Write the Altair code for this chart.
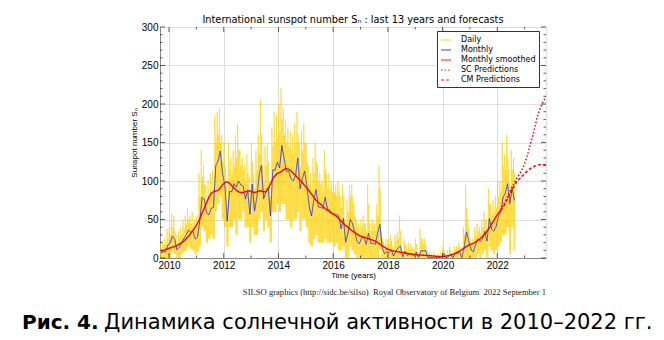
import altair as alt
import pandas as pd

# ---------------- data ----------------
# months start September 2009
monthly = [7, 8, 8, 17,
           19.6, 28.5, 24.0, 10.4, 13.9, 18.8, 25.2, 29.6, 36.4, 33.6, 34.4, 24.5,
           27.3, 48.3, 78.6, 76.1, 58.2, 56.1, 64.5, 65.8, 120.1, 125.7, 139.1, 109.3,
           94.4, 47.8, 86.6, 85.9, 96.5, 92.0, 100.1, 94.8, 93.7, 76.5, 87.6, 56.8,
           96.1, 60.9, 78.3, 107.3, 120.2, 76.7, 86.2, 91.8, 54.5, 114.4, 113.9, 124.2,
           117.0, 146.1, 128.7, 112.5, 112.5, 102.9, 100.2, 106.9, 130.0, 90.0, 103.6, 112.9,
           93.0, 66.7, 54.5, 75.3, 88.8, 66.5, 65.8, 64.4, 78.6, 63.6, 62.2, 58.0,
           57.0, 56.4, 54.1, 37.9, 51.5, 20.5, 32.4, 50.2, 44.6, 33.4, 21.4, 18.5,
           26.1, 26.4, 17.7, 32.3, 18.9, 19.2, 17.8, 32.6, 43.7, 13.2, 5.7, 8.2,
           6.8, 10.7, 2.5, 8.9, 13.1, 15.6, 1.6, 8.7, 3.3, 4.9, 4.9, 3.1,
           7.7, 0.8, 9.4, 9.1, 9.9, 1.2, 0.9, 0.5, 1.1, 0.4, 0.5, 1.5,
           6.2, 0.2, 1.5, 5.2, 0.2, 5.8, 6.1, 7.5, 0.6, 14.4, 34.0, 21.8,
           10.4, 8.2, 17.2, 24.5, 21.2, 25.0, 34.5, 22.0, 51.3, 37.4, 34.8, 41.1,
           54.0, 59.7, 78.5, 84.1, 96.5, 70.6, 91.4, 74.6]

smoothed = [9, 10, 11, 12,
            13, 14, 15, 16, 18, 20, 22, 25, 28, 32, 36, 40,
            45, 51, 58, 65, 72, 79, 84, 86, 87, 88, 91, 95,
            98, 99, 97, 94, 91, 88, 86, 85, 85, 86, 87, 87,
            86, 85, 86, 87, 87, 86, 86, 90, 96, 103, 107, 110,
            111, 113, 115, 116, 115, 113, 110, 107, 104, 101, 98, 94,
            91, 87, 83, 79, 75, 72, 70, 67, 64, 62, 60, 58,
            56, 54, 51, 48, 45, 42, 40, 37, 35, 33, 31, 29,
            28, 27, 26, 25, 24, 23, 22, 20, 18, 16, 14, 12,
            11, 10, 9, 8.5, 8, 7.5, 7, 6.5, 6, 5.5, 5, 4.5,
            4.2, 4, 3.8, 3.6, 3.4, 3.2, 3, 2.8, 2.4, 2.1, 1.9, 1.8,
            2.0, 2.5, 3.0, 3.8, 4.8, 6.0, 7.5, 9, 11, 13, 15, 17,
            18, 19, 21, 23, 25, 28, 31, 35, 39, 44, 49, 54,
            58, 62]

# daily values: highest spike, a second spike and the low of each month
daily_hi = [20, 22, 25, 38,
            40, 58, 55, 30, 35, 40, 50, 55, 65, 55, 60, 50,
            55, 110, 140, 120, 95, 100, 110, 115, 185, 190, 195, 160,
            150, 95, 150, 130, 140, 160, 175, 140, 130, 120, 135, 105,
            150, 110, 140, 160, 205, 120, 145, 150, 100, 170, 190, 185,
            200, 220, 195, 180, 170, 165, 160, 175, 190, 150, 165, 175,
            150, 120, 110, 130, 150, 120, 110, 100, 140, 110, 110, 100,
            100, 95, 100, 80, 95, 50, 75, 95, 95, 70, 50, 45,
            50, 55, 45, 95, 45, 50, 45, 70, 120, 35, 20, 25,
            25, 30, 15, 30, 35, 55, 10, 25, 15, 20, 18, 15,
            25, 8, 38, 25, 25, 10, 8, 5, 8, 5, 5, 8,
            15, 5, 10, 15, 5, 15, 15, 20, 8, 40, 95, 50,
            25, 25, 40, 45, 40, 50, 60, 50, 90, 70, 75, 80,
            100, 100, 150, 135, 160, 115, 140, 130]

daily_hi2 = [12, 15, 18, 25,
             30, 40, 35, 20, 25, 30, 38, 45, 50, 45, 42, 35,
             40, 80, 105, 95, 70, 80, 85, 90, 150, 160, 150, 125,
             120, 70, 115, 110, 120, 130, 140, 120, 115, 100, 110, 85,
             125, 90, 115, 135, 160, 100, 120, 125, 80, 145, 150, 155,
             165, 180, 160, 150, 145, 140, 135, 150, 160, 120, 140, 150,
             125, 95, 90, 110, 125, 100, 95, 85, 115, 90, 90, 85,
             85, 80, 85, 65, 80, 40, 60, 80, 80, 55, 40, 35,
             40, 45, 35, 70, 35, 40, 35, 55, 90, 25, 12, 18,
             18, 22, 10, 22, 25, 35, 5, 18, 10, 12, 12, 10,
             18, 4, 25, 18, 18, 5, 4, 2, 4, 2, 2, 4,
             10, 2, 5, 10, 2, 10, 10, 14, 4, 30, 65, 38,
             18, 18, 30, 35, 32, 40, 50, 38, 70, 55, 60, 65,
             80, 85, 120, 115, 130, 95, 115, 110]

daily_lo = [0, 0, 0, 0,
            0, 10, 5, 0, 0, 5, 8, 10, 15, 12, 10, 5,
            8, 15, 40, 35, 20, 25, 30, 25, 60, 70, 80, 50,
            40, 15, 40, 40, 50, 30, 50, 50, 60, 40, 40, 20,
            40, 30, 30, 50, 60, 35, 50, 40, 20, 60, 60, 70,
            60, 70, 70, 50, 50, 40, 50, 50, 60, 35, 50, 50,
            40, 20, 15, 25, 30, 20, 20, 20, 25, 20, 20, 20,
            15, 20, 10, 10, 15, 0, 0, 15, 10, 5, 0, 0,
            0, 0, 0, 0, 0, 0, 0, 0, 10, 0, 0, 0,
            0, 0, 0, 0, 0, 0, 0, 0, 0, 0, 0, 0,
            0, 0, 0, 0, 0, 0, 0, 0, 0, 0, 0, 0,
            0, 0, 0, 0, 0, 0, 0, 0, 0, 0, 0, 0,
            0, 0, 0, 5, 0, 5, 10, 0, 15, 10, 5, 10,
            15, 20, 30, 30, 40, 5, 40, 10]

# predictions from March 2022 to October 2023
sc_pred = [68, 74, 80, 86, 92, 98, 103, 108, 113, 119, 127, 137, 148, 158,
           170, 183, 192, 199, 205, 210]
cm_pred = [66, 71, 77, 83, 89, 94, 99, 102, 105, 108, 111, 114, 116, 118,
           119.5, 120.5, 121, 121, 121, 121]

series_names = ["Daily", "Monthly", "Monthly smoothed", "SC Predictions", "CM Predictions"]
series_colors = ["#FFD000", "#2b2bdd", "#ff0000", "#ff0000", "#ff0000"]
series_dash = [[1, 0], [1, 0], [1, 0], [1.5, 2], [3, 2]]

x_ticks = [2010, 2012, 2014, 2016, 2018, 2020, 2022]
x_minor = list(range(2010, 2024))
y_ticks = [0, 50, 100, 150, 200, 250, 300]
y_minor = list(range(0, 301, 10))

NB = "\u00a0"
title_text = "International sunspot number S\u2099 : last 13 years and forecasts"
footer_text = ("SILSO graphics (http://sidc.be/silso)" + NB * 2 + "Royal Observatory of Belgium"
               + NB * 2 + "2022 September 1")
caption_bold = "Рис. 4."
caption_rest = "Динамика солнечной активности в 2010–2022 гг."

# ---------------- tables ----------------
def month_pos(i, frac=0.5, y0=2009, m0=8):
    k = m0 + i
    return y0 + k // 12 + ((k % 12) + frac) / 12

daily_rows = []
for i in range(len(daily_hi)):
    for frac, val in ((0.125, daily_hi[i]), (0.375, daily_lo[i]),
                      (0.625, daily_hi2[i]), (0.875, daily_lo[i])):
        daily_rows.append({"t": month_pos(i, frac), "v": val, "s": "Daily"})
daily_df = pd.DataFrame(daily_rows)

monthly_df = pd.DataFrame({"t": [month_pos(i) for i in range(len(monthly))],
                           "v": monthly, "s": "Monthly"})
smooth_df = pd.DataFrame({"t": [month_pos(i) for i in range(len(smoothed))],
                          "v": smoothed, "s": "Monthly smoothed"})
n0 = len(smoothed) - 1
sc_df = pd.DataFrame({"t": [month_pos(n0 + i) for i in range(len(sc_pred) + 1)],
                      "v": [smoothed[-1]] + sc_pred, "s": "SC Predictions"})
cm_df = pd.DataFrame({"t": [month_pos(n0 + i) for i in range(len(cm_pred) + 1)],
                      "v": [smoothed[-1]] + cm_pred, "s": "CM Predictions"})

W, H = 386, 231
xscale = alt.Scale(domain=[2009.67, 2023.78], nice=False, zero=False)
yscale = alt.Scale(domain=[0, 300], nice=False)

legend = alt.Legend(title=None, orient="none", legendX=277, legendY=4,
                    symbolType="stroke", symbolSize=100, symbolStrokeWidth=1.5,
                    symbolOpacity=0.6, labelFontSize=8, labelFont="DejaVu Sans",
                    labelOffset=9, rowPadding=0, padding=3,
                    strokeColor="#333333", fillColor="white", labelColor="black")

color = alt.Color("s:N", scale=alt.Scale(domain=series_names, range=series_colors),
                  legend=legend)
dash = alt.StrokeDash("s:N", scale=alt.Scale(domain=series_names, range=series_dash),
                      legend=legend)

xaxis = alt.Axis(values=x_ticks, format="d", title="Time (years)",
                 titleFontSize=8, titleFontWeight="normal",
                 titlePadding=1, labelPadding=2, tickSize=0, labelOverlap=False)
yaxis = alt.Axis(values=y_ticks, title="Sunspot number S\u2099",
                 titleFontSize=8, titleFontWeight="normal",
                 titlePadding=3, labelPadding=2, tickSize=0, labelOverlap=False)
xenc = alt.X("t:Q", scale=xscale, axis=xaxis)
yenc = alt.Y("v:Q", scale=yscale, axis=yaxis)


def line(df, **mk):
    return alt.Chart(df).mark_line(clip=True, **mk).encode(
        x=xenc, y=yenc, color=color, strokeDash=dash)


daily_l = line(daily_df, strokeWidth=1, opacity=0.6)
monthly_l = line(monthly_df, strokeWidth=1, opacity=0.85)
smooth_l = line(smooth_df, strokeWidth=1.4)
sc_l = line(sc_df, strokeWidth=1.5)
cm_l = line(cm_df, strokeWidth=1.5)

# inward tick marks on all four sides (same fields/axes as the data layers)
ytick_df = pd.DataFrame({"v": y_minor, "major": [v in y_ticks for v in y_minor]})
xtick_df = pd.DataFrame({"t": x_minor, "major": [v in x_ticks for v in x_minor]})
tick_color = "#333333"
yt_maj = ytick_df[ytick_df.major]
yt_min = ytick_df[~ytick_df.major]
xt_maj = xtick_df[xtick_df.major]
xt_min = xtick_df[~xtick_df.major]


def yticks(df, length):
    left = alt.Chart(df).mark_rule(color=tick_color, strokeWidth=0.8).encode(
        y=yenc, x=alt.value(0), x2=alt.value(length))
    right = alt.Chart(df).mark_rule(color=tick_color, strokeWidth=0.8).encode(
        y=yenc, x=alt.value(W - length), x2=alt.value(W))
    return left + right


def xticks(df, length):
    bottom = alt.Chart(df).mark_rule(color=tick_color, strokeWidth=0.8).encode(
        x=xenc, y=alt.value(H - length), y2=alt.value(H))
    top = alt.Chart(df).mark_rule(color=tick_color, strokeWidth=0.8).encode(
        x=xenc, y=alt.value(0), y2=alt.value(length))
    return bottom + top


ticks = yticks(yt_maj, 5) + yticks(yt_min, 2.5) + xticks(xt_maj, 5) + xticks(xt_min, 2.5)

footer = alt.Chart(pd.DataFrame({"label": [footer_text]})).mark_text(
    font="Liberation Serif", fontSize=8.6, align="right", baseline="middle",
    color="#222222").encode(text="label:N", x=alt.value(W), y=alt.value(265))

cap1 = alt.Chart(pd.DataFrame({"label": [caption_bold]})).mark_text(
    font="DejaVu Sans", fontSize=20, fontWeight="bold", align="left",
    baseline="alphabetic", color="black").encode(
    text="label:N", x=alt.value(-138), y=alt.value(302))
cap2 = alt.Chart(pd.DataFrame({"label": [caption_rest]})).mark_text(
    font="DejaVu Sans", fontSize=21, align="left", baseline="alphabetic",
    color="black").encode(text="label:N", x=alt.value(-56), y=alt.value(302))

chart = alt.layer(daily_l, monthly_l, smooth_l, sc_l, cm_l, ticks, footer, cap1, cap2).properties(
    width=W, height=H,
    title=alt.TitleParams(title_text, fontSize=9.8, fontWeight="normal",
                          font="DejaVu Sans", offset=-3, color="black"),
    autosize=alt.AutoSizeParams(type="none"),
    padding={"left": 160, "top": 27, "right": 118, "bottom": 82},
).configure_view(stroke="#333333", strokeWidth=1.2).configure_axis(
    labelFont="DejaVu Sans", titleFont="DejaVu Sans", labelFontSize=8,
    labelColor="black", titleColor="black", domain=False, ticks=False,
    grid=True, gridColor="#aaaaaa", gridDash=[1, 2], gridWidth=0.8,
).configure(background="white")

chart.save("out.html", embed_options={"renderer": "svg", "actions": False})
